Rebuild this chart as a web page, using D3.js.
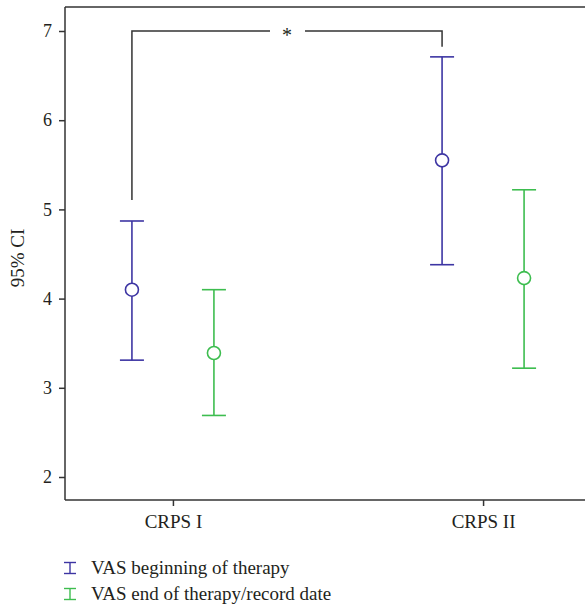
<!DOCTYPE html>
<html>
<head>
<meta charset="utf-8">
<script src="https://cdn.jsdelivr.net/npm/d3@7"></script>
<style>
  body { margin: 0; background: white; }
  text { font-family: "Liberation Serif", "DejaVu Serif", serif; fill: #231f20; }
</style>
</head>
<body>
<svg width="585" height="607"></svg>
<script>
var groups = ['CRPS I', 'CRPS II'];
var series = ['VAS beginning of therapy', 'VAS end of therapy/record date'];
var colors = ['#3d35a3', '#3dbd4f'];
// mean, lower, upper for each series per group
var means = [[4.10, 5.55], [3.39, 4.23]];
var lows  = [[3.31, 4.38], [2.69, 3.22]];
var highs = [[4.87, 6.71], [4.10, 5.22]];
var yTicks = [2, 3, 4, 5, 6, 7];

var svg = d3.select('svg');
var left = 65, plotTop = 7, bottom = 500, right = 591;
var serif = '"Liberation Serif", "DejaVu Serif", serif';

var y = d3.scaleLinear().domain([2, 7]).range([477, 31]);
var x = d3.scalePoint().domain(groups).range([left, right]).padding(0.348);
var off = d3.scalePoint().domain(series).range([-41, 41]);

// frame: top line + left axis
svg.append('line').attr('x1', left).attr('x2', right).attr('y1', plotTop).attr('y2', plotTop)
   .attr('stroke', '#333').attr('stroke-width', 1.5);

var ya = svg.append('g').attr('transform', 'translate(' + left + ',0)')
  .call(d3.axisLeft(y).tickValues(yTicks).tickSize(6).tickPadding(7).tickFormat(d3.format('d')))
  .attr('font-family', serif);
ya.select('.domain').attr('d', 'M0,' + plotTop + 'V' + bottom).attr('stroke', '#333').attr('stroke-width', 1.5);
ya.selectAll('.tick line').attr('stroke', '#333').attr('stroke-width', 1.5);
ya.selectAll('.tick text').attr('font-size', 18).attr('fill', '#231f20');

var xa = svg.append('g').attr('transform', 'translate(0,' + bottom + ')')
  .call(d3.axisBottom(x).tickSize(6).tickPadding(9))
  .attr('font-family', serif);
xa.select('.domain').attr('d', 'M' + left + ',0H' + right).attr('stroke', '#333').attr('stroke-width', 1.5);
xa.selectAll('.tick line').attr('stroke', '#333').attr('stroke-width', 1.5);
xa.selectAll('.tick text').attr('font-size', 19).attr('fill', '#231f20');

svg.append('text')
  .attr('transform', 'translate(24,258) rotate(-90)')
  .attr('text-anchor', 'middle').attr('font-size', 19)
  .text('95% CI');

// significance bracket
var bx1 = x('CRPS I') + off(series[0]), bx2 = x('CRPS II') + off(series[0]);
var by = y(7), mid = (bx1 + bx2) / 2;
var br = svg.append('g').attr('stroke', '#333').attr('stroke-width', 1.5).attr('fill', 'none');
br.append('path').attr('d', 'M' + bx1 + ',' + (y(highs[0][0]) - 21) + 'V' + by + 'H' + (mid - 17));
br.append('path').attr('d', 'M' + (mid + 18) + ',' + by + 'H' + bx2 + 'V' + (y(highs[0][1]) - 10));
svg.append('text').attr('x', mid).attr('y', by + 11).attr('text-anchor', 'middle')
  .attr('font-size', 20).text('*');

// error bars
series.forEach(function(s, si) {
  groups.forEach(function(g, gi) {
    var cx = x(g) + off(s);
    var e = svg.append('g').attr('stroke', colors[si]).attr('stroke-width', 1.6).attr('fill', 'none');
    e.append('line').attr('x1', cx).attr('x2', cx).attr('y1', y(lows[si][gi])).attr('y2', y(highs[si][gi]));
    e.append('line').attr('x1', cx - 12).attr('x2', cx + 12).attr('y1', y(lows[si][gi])).attr('y2', y(lows[si][gi]));
    e.append('line').attr('x1', cx - 12).attr('x2', cx + 12).attr('y1', y(highs[si][gi])).attr('y2', y(highs[si][gi]));
    e.append('circle').attr('cx', cx).attr('cy', y(means[si][gi])).attr('r', 6.5).attr('fill', 'white');
  });
});

// legend
series.forEach(function(s, si) {
  var ly = 568 + si * 26;
  var g = svg.append('g').attr('transform', 'translate(70,' + ly + ')');
  var ic = g.append('g').attr('stroke', colors[si]).attr('stroke-width', 1.4);
  ic.append('line').attr('x1', 0).attr('x2', 0).attr('y1', -5.5).attr('y2', 5.5);
  ic.append('line').attr('x1', -6).attr('x2', 6).attr('y1', -5.5).attr('y2', -5.5);
  ic.append('line').attr('x1', -6).attr('x2', 6).attr('y1', 5.5).attr('y2', 5.5);
  g.append('text').attr('x', 21).attr('y', 6).attr('font-size', 19).text(s);
});
</script>
</body>
</html>
